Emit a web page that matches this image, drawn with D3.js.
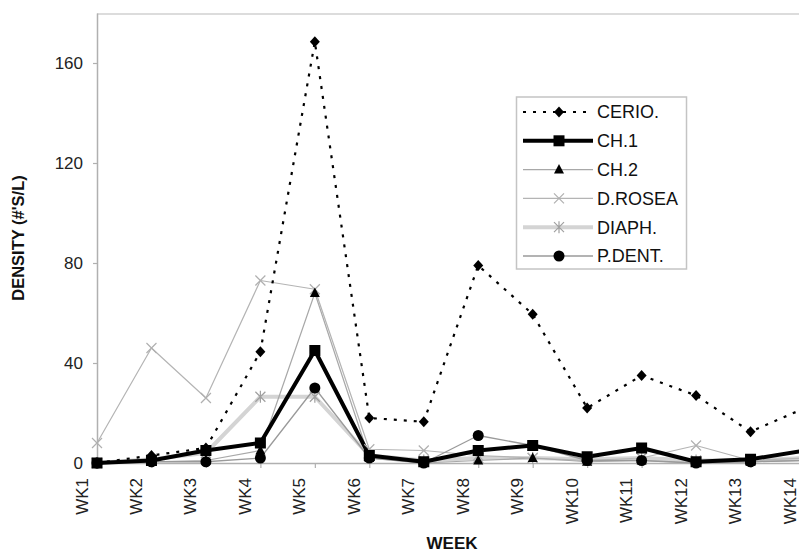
<!DOCTYPE html>
<html>
<head>
<meta charset="utf-8">
<script src="https://cdn.jsdelivr.net/npm/d3@7"></script>
<style>
  html, body { margin: 0; padding: 0; background: #fff; }
  svg { display: block; font-family: "Liberation Sans", Arial, sans-serif; }
</style>
</head>
<body>
<svg id="chart" width="799" height="552"></svg>
<script>
// Weekly zooplankton densities (#'s per litre)
const weeks = ["WK1","WK2","WK3","WK4","WK5","WK6","WK7","WK8","WK9","WK10","WK11","WK12","WK13","WK14"];
const yTicks = [0, 40, 80, 120, 160];

const cerio  = [0, 3, 6, 44.5, 168.5, 18, 16.5, 79, 59.5, 22, 35, 27, 12.5, 22];
const ch1    = [0, 1, 5, 8, 45, 3, 0.5, 5, 7, 2.5, 6, 0.5, 1.5, 5];
const ch2    = [0, 0.5, 1, 5, 68, 2, 0, 1, 2, 0.5, 1, 0, 0.5, 1];
const dRosea = [8, 46, 26, 73, 69.5, 5.5, 5, 3, 2, 1, 2, 7, 1, 2];
const diaph  = [0, 1.5, 4, 26.5, 26.5, 3, 1, 2, 2, 1.5, 2, 1, 1, 2];
const pDent  = [0, 0.5, 0.5, 2, 30, 2, 0, 11, 7, 1, 1, 0, 0.5, 1];

const seriesNames = ["CERIO.", "CH.1", "CH.2", "D.ROSEA", "DIAPH.", "P.DENT."];
const seriesValues = [cerio, ch1, ch2, dRosea, diaph, pDent];

// Visual style per series (line + marker)
const styles = {
  "CERIO.":  { stroke: "#000", width: 2.2, dash: "3,7", marker: "diamond", fill: "#000" },
  "CH.1":    { stroke: "#000", width: 4, dash: null, marker: "square", fill: "#000" },
  "CH.2":    { stroke: "#a8a8a8", width: 1.2, dash: null, marker: "triangle", fill: "#000" },
  "D.ROSEA": { stroke: "#b4b4b4", width: 1.2, dash: null, marker: "cross", fill: "#b0b0b0" },
  "DIAPH.":  { stroke: "#d4d4d4", width: 4, dash: null, marker: "asterisk", fill: "#a0a0a0" },
  "P.DENT.": { stroke: "#9a9a9a", width: 1.3, dash: null, marker: "circle", fill: "#000" }
};

const svg = d3.select("#chart");
const plotLeft = 97, plotTop = 13, plotBottom = 463, plotRightEnd = 805;

const x = d3.scalePoint().domain(weeks).range([plotLeft, plotRightEnd]);
const y = d3.scaleLinear().domain([0, 180]).range([plotBottom, plotTop]);

const axisColor = "#b0b0b0";

// plot frame top edge
svg.append("line")
  .attr("x1", plotLeft).attr("x2", 799)
  .attr("y1", y(180) + 1).attr("y2", y(180) + 1)
  .attr("stroke", "#d0d0d0").attr("stroke-width", 1.5);

// y axis
const yAxis = svg.append("g")
  .attr("transform", `translate(${plotLeft},0)`)
  .call(d3.axisLeft(y).tickValues(yTicks).tickSize(4).tickSizeOuter(0).tickPadding(10));
yAxis.select(".domain").attr("stroke", axisColor).attr("stroke-width", 1.5);
yAxis.selectAll(".tick line").attr("stroke", axisColor).attr("stroke-width", 1.2);
yAxis.selectAll(".tick text")
  .attr("font-size", 17).attr("fill", "#222").attr("font-family", "Liberation Sans, Arial, sans-serif");

// x axis
const xAxis = svg.append("g")
  .attr("transform", `translate(0,${plotBottom})`)
  .call(d3.axisBottom(x).tickSize(5).tickSizeOuter(0));
xAxis.select(".domain").attr("stroke", axisColor).attr("stroke-width", 1.5);
xAxis.selectAll(".tick line").attr("stroke", axisColor).attr("stroke-width", 1.2);
xAxis.selectAll(".tick text")
  .attr("font-size", 17).attr("fill", "#222").attr("font-family", "Liberation Sans, Arial, sans-serif")
  .attr("x", 0).attr("y", 0).attr("dy", null)
  .attr("text-anchor", "end")
  .attr("transform", "translate(-10,15) rotate(-90)");

// axis titles
svg.append("text")
  .attr("x", 452).attr("y", 549)
  .attr("text-anchor", "middle")
  .attr("font-size", 17).attr("font-weight", "bold").attr("fill", "#111")
  .text("WEEK");

svg.append("text")
  .attr("transform", "translate(24,238) rotate(-90)")
  .attr("text-anchor", "middle")
  .attr("font-size", 16.5).attr("font-weight", "bold").attr("fill", "#111")
  .text("DENSITY (#'S/L)");

// marker drawing
function drawMarker(g, type, cx, cy, st) {
  switch (type) {
    case "diamond":
      g.append("path").attr("d", `M${cx},${cy-5.5}L${cx+5},${cy}L${cx},${cy+5.5}L${cx-5},${cy}Z`).attr("fill", st.fill);
      break;
    case "square":
      g.append("rect").attr("x", cx - 5.5).attr("y", cy - 5.5).attr("width", 11).attr("height", 11).attr("fill", st.fill);
      break;
    case "triangle":
      g.append("path").attr("d", `M${cx},${cy-5.5}L${cx+5},${cy+4}L${cx-5},${cy+4}Z`).attr("fill", st.fill);
      break;
    case "cross":
      g.append("path").attr("d", `M${cx-5},${cy-5}L${cx+5},${cy+5}M${cx-5},${cy+5}L${cx+5},${cy-5}`)
        .attr("stroke", st.fill).attr("stroke-width", 1.2).attr("fill", "none");
      break;
    case "asterisk":
      g.append("path").attr("d", `M${cx-5},${cy-5}L${cx+5},${cy+5}M${cx-5},${cy+5}L${cx+5},${cy-5}M${cx},${cy-6}L${cx},${cy+6}`)
        .attr("stroke", st.fill).attr("stroke-width", 1.2).attr("fill", "none");
      break;
    case "circle":
      g.append("circle").attr("cx", cx).attr("cy", cy).attr("r", 5.5).attr("fill", st.fill);
      break;
  }
}

const line = d3.line().x((d, i) => x(weeks[i])).y(d => y(d));

// draw lines (paler series underneath, dark series on top)
const drawOrder = ["DIAPH.", "D.ROSEA", "CH.2", "P.DENT.", "CH.1", "CERIO."];
const linesG = svg.append("g");
drawOrder.forEach(name => {
  const vals = seriesValues[seriesNames.indexOf(name)];
  const st = styles[name];
  linesG.append("path")
    .datum(vals)
    .attr("d", line)
    .attr("fill", "none")
    .attr("stroke", st.stroke)
    .attr("stroke-width", st.width)
    .attr("stroke-dasharray", st.dash)
    .attr("stroke-linejoin", "round");
});

const markersG = svg.append("g");
drawOrder.forEach(name => {
  const vals = seriesValues[seriesNames.indexOf(name)];
  const st = styles[name];
  vals.forEach((v, i) => drawMarker(markersG, st.marker, x(weeks[i]), y(v), st));
});

// legend
const lg = svg.append("g");
lg.append("rect")
  .attr("x", 516.5).attr("y", 97).attr("width", 170).attr("height", 172)
  .attr("fill", "#fff").attr("stroke", "#c4c4c4").attr("stroke-width", 1.5);
seriesNames.forEach((name, i) => {
  const st = styles[name];
  const ly = 112 + i * 28.8;
  lg.append("line")
    .attr("x1", 523).attr("x2", 593).attr("y1", ly).attr("y2", ly)
    .attr("stroke", st.stroke).attr("stroke-width", st.width)
    .attr("stroke-dasharray", st.dash);
  drawMarker(lg, st.marker, 559, ly, st);
  lg.append("text")
    .attr("x", 597).attr("y", ly).attr("dy", "0.36em")
    .attr("font-size", 18).attr("fill", "#111")
    .text(name);
});
</script>
</body>
</html>
